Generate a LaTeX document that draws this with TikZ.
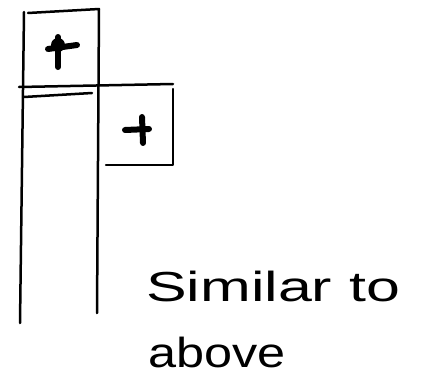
\documentclass[tikz,border=0pt]{standalone}
\usepackage{fontspec}
\setmainfont{Liberation Sans}
\begin{document}
\begin{tikzpicture}[x=1pt,y=-1pt,
  pen/.style={line width=2.5pt,line cap=round,line join=round},
  markpen/.style={line width=6pt,line cap=round},
  hand/.style={anchor=base west,inner sep=0pt,font=\fontsize{42}{48}\selectfont}]
\useasboundingbox (0,0) rectangle (429,383);
% left column
\draw[pen] (24,12) -- (20,323);
\draw[pen] (28,13) -- (99,9) -- (97,313);
\draw[pen] (19,87) -- (173,84);
\draw[pen] (24,97) -- (92,93);
% right box
\draw[pen] (173,89) -- (173,165) -- (106,165);
% marks
\fill (58,45) circle[radius=7pt];
\draw[markpen] (48,49) -- (77,45);
\draw[markpen] (58,37) -- (58,67);
\draw[markpen] (125,130) -- (149,129);
\draw[markpen] (142,117) -- (143,143);
% text
\node[hand] (t1) at (146,301) {\scalebox{1.45}[1]{Similar to}};
\node[hand] (t2) at (148,367) {\scalebox{1.2}[1]{above}};
\end{tikzpicture}
\end{document}
